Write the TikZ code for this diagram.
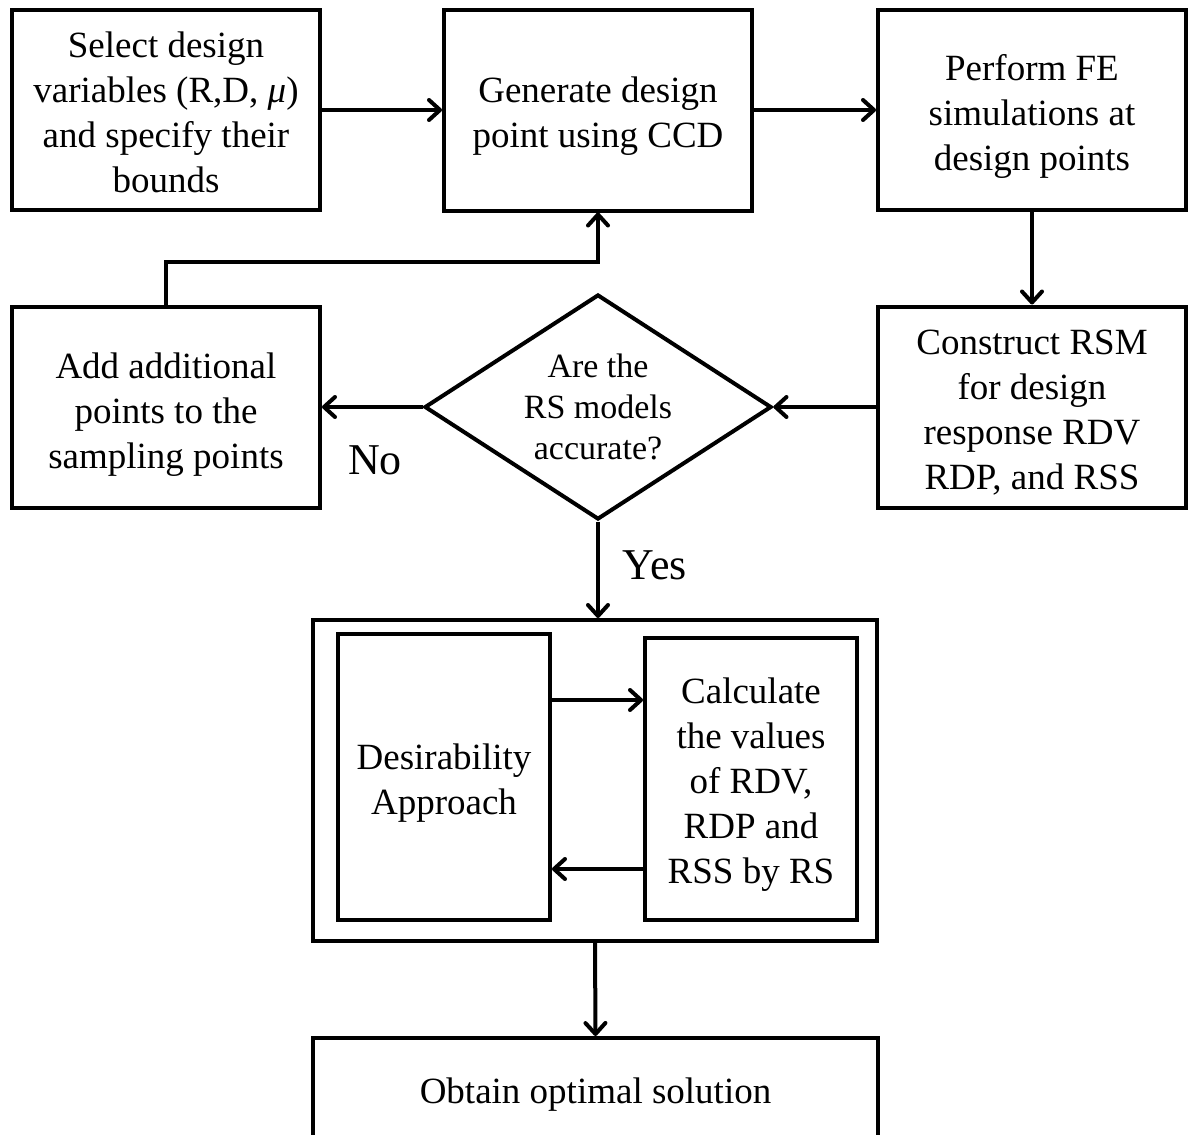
\documentclass[tikz,border=0pt]{standalone}
\usepackage{fontspec}
\setmainfont{Liberation Serif}
\usetikzlibrary{shapes.geometric,arrows.meta}
\newcommand{\boxtext}[2][-5pt]{\raisebox{#1}[\height][\depth]{\begin{tabular}{@{}c@{}}#2\end{tabular}}}
\begin{document}
\begin{tikzpicture}[x=1pt,y=-1pt,
  box/.style={draw, line width=4pt, rectangle, inner sep=0pt, align=center, font=\fontsize{37}{45}\selectfont},
  arr/.style={line width=4pt, -{Straight Barb[length=11pt,width=20pt,line width=4pt,line cap=round,line join=round]}},
  lbl/.style={font=\fontsize{44}{50}\selectfont, inner sep=0pt}]
\useasboundingbox (0,0) rectangle (1194,1135);
\fill[white] (0,0) rectangle (1194,1135);

\node[box, minimum width=308pt, minimum height=200pt] (sel) at (166,110) {\boxtext[-6pt]{Select design\\variables (R,D, \textit{μ})\\and specify their\\bounds}};
\node[box, minimum width=308pt, minimum height=201pt] (gen) at (598,110) {\boxtext[-6pt]{Generate design\\point using CCD}};
\node[box, minimum width=308pt, minimum height=200pt] (fe) at (1032,110) {\boxtext[-6pt]{Perform FE\\simulations at\\design points}};
\node[box, minimum width=308pt, minimum height=201pt] (rsm) at (1032,407) {\boxtext[-6pt]{Construct RSM\\for design\\response RDV\\RDP, and RSS}};
\node[box, minimum width=308pt, minimum height=201pt] (add) at (166,407) {\boxtext[-7pt]{Add additional\\points to the\\sampling points}};
\node[draw, line width=4pt, diamond, aspect=1.54, inner sep=0pt, minimum width=347pt, minimum height=225pt, align=center, font=\fontsize{34}{41}\selectfont] (dia) at (598,407) {Are the\\RS models\\accurate?};

\node[draw, line width=4pt, rectangle, minimum width=564pt, minimum height=321pt, inner sep=0pt] (outer) at (595,780.5) {};
\node[box, minimum width=212pt, minimum height=286pt] (des) at (444,777) {\boxtext[-6pt]{Desirability\\Approach}};
\node[box, minimum width=212pt, minimum height=282pt] (calc) at (751,779) {\boxtext{Calculate\\the values\\of RDV,\\RDP and\\RSS by RS}};

\node[box, minimum width=565pt, minimum height=104pt] (opt) at (595.5,1090) {\boxtext[-4pt]{Obtain optimal solution}};

\draw[arr] (sel.east) -- (gen.west);
\draw[arr] (gen.east) -- (fe.west);
\draw[arr] (fe.south) -- (rsm.north);
\draw[arr] (rsm.west) -- (dia.east);
\draw[arr] (dia.west) -- (add.east);
\draw[arr] (add.north) -- (add.north |- 0,262) -| (gen.south);
\draw[arr] (dia.south) -- (dia.south |- outer.north);
\draw[arr] (des.east |- 0,700) -- (calc.west |- 0,700);
\draw[arr] (calc.west |- 0,869) -- (des.east |- 0,869);
\draw[arr] (outer.south) -- (opt.north);

\node[lbl] (no) at (375,460) {No};
\node[lbl] (yes) at (655,565) {Yes};
\end{tikzpicture}
\end{document}
